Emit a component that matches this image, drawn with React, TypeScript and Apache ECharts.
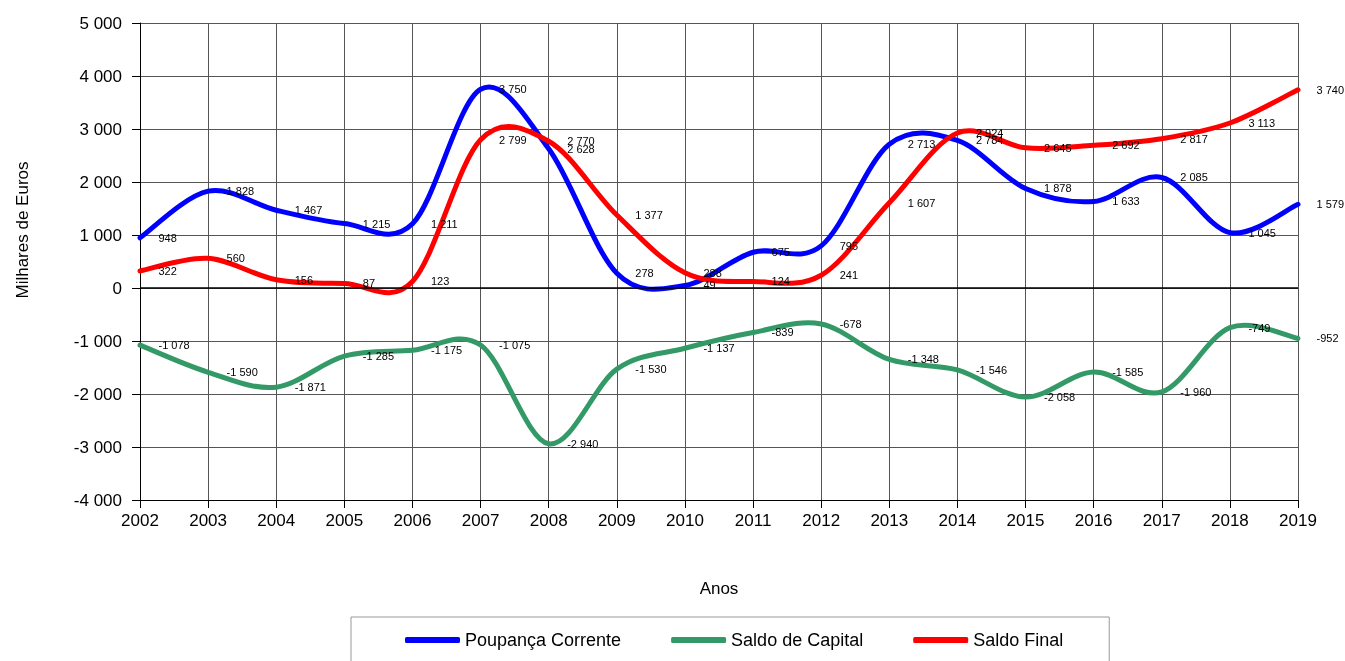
import React, { useEffect, useRef } from "react";
import * as echarts from "echarts";

const years = ["2002","2003","2004","2005","2006","2007","2008","2009","2010","2011","2012","2013","2014","2015","2016","2017","2018","2019"];
const poupancaCorrente = [948, 1828, 1467, 1215, 1211, 3750, 2628, 278, 49, 675, 795, 2713, 2784, 1878, 1633, 2085, 1045, 1579];
const saldoCapital = [-1078, -1590, -1871, -1285, -1175, -1075, -2940, -1530, -1137, -839, -678, -1348, -1546, -2058, -1585, -1960, -749, -952];
const saldoFinal = [322, 560, 156, 87, 123, 2799, 2770, 1377, 288, 124, 241, 1607, 2924, 2645, 2692, 2817, 3113, 3740];

const fmt = (v: number) => {
  const s = Math.abs(Math.round(v)).toString().replace(/\B(?=(\d{3})+(?!\d))/g, " ");
  return (v < 0 ? "-" : "") + s;
};

const FONT = "'Liberation Sans', Arial, sans-serif";

// Catmull-Rom style smoothing (similar to Excel's smoothed line)
const smoothPath = (pts: number[][]) => {
  let d = `M${pts[0][0]},${pts[0][1]}`;
  for (let i = 0; i < pts.length - 1; i++) {
    const p0 = pts[Math.max(0, i - 1)];
    const p1 = pts[i];
    const p2 = pts[i + 1];
    const p3 = pts[Math.min(pts.length - 1, i + 2)];
    const c1x = p1[0] + (p2[0] - p0[0]) / 6;
    const c1y = p1[1] + (p2[1] - p0[1]) / 6;
    const c2x = p2[0] - (p3[0] - p1[0]) / 6;
    const c2y = p2[1] - (p3[1] - p1[1]) / 6;
    d += ` C${c1x},${c1y} ${c2x},${c2y} ${p2[0]},${p2[1]}`;
  }
  return d;
};

export default function App() {
  const ref = useRef<HTMLDivElement>(null);
  useEffect(() => {
    if (!ref.current) return;
    const chart = echarts.init(ref.current, undefined, { renderer: "svg" });

    const labelSeries = (name: string, data: number[], color: string, extra: any = {}) => ({
      name,
      type: "line",
      data,
      z: 5,
      symbol: "circle",
      symbolSize: 1,
      showSymbol: true,
      lineStyle: { color, width: 0, opacity: 0 },
      itemStyle: { color, opacity: 1 },
      label: {
        show: true,
        position: "right",
        distance: 18,
        color: "#000",
        opacity: 1,
        fontSize: 11,
        fontFamily: FONT,
        formatter: (p: any) => fmt(p.value),
      },
      emphasis: { disabled: true },
      ...extra,
    });

    const curveSeries = (id: string, data: number[], color: string) => ({
      name: id,
      type: "custom",
      z: 2,
      silent: true,
      data: data.map((v, i) => [i, v]),
      encode: { x: 0, y: 1 },
      renderItem: (params: any, api: any) => {
        if (params.dataIndex !== 0) return null;
        const pts = data.map((v, i) => api.coord([i, v]));
        return {
          type: "path",
          shape: { pathData: smoothPath(pts) },
          style: { stroke: color, lineWidth: 5, fill: "none", lineCap: "round", lineJoin: "round" },
        };
      },
    });

    chart.setOption({
      animation: false,
      textStyle: { fontFamily: FONT },
      grid: { left: 140, right: 47, top: 23, bottom: 161 },
      legend: {
        left: 351,
        top: 617,
        orient: "horizontal",
        borderColor: "#999",
        borderWidth: 1,
        padding: [14, 46, 30, 54],
        itemGap: 50,
        itemWidth: 55,
        itemHeight: 6,
        icon: "roundRect",
        textStyle: { fontSize: 18, color: "#000", fontFamily: FONT },
        data: [
          { name: "Poupança Corrente", itemStyle: { color: "#0000FF", opacity: 1 } },
          { name: "Saldo de Capital", itemStyle: { color: "#339966", opacity: 1 } },
          { name: "Saldo Final", itemStyle: { color: "#FF0000", opacity: 1 } },
        ],
      },
      xAxis: {
        type: "category",
        data: years,
        boundaryGap: false,
        name: "Anos",
        nameLocation: "middle",
        nameGap: 80,
        nameTextStyle: { fontSize: 17, color: "#000", fontFamily: FONT },
        axisLine: { onZero: false, lineStyle: { color: "#000", width: 1 } },
        axisTick: { show: true, length: 8, alignWithLabel: true, lineStyle: { color: "#000" } },
        axisLabel: { color: "#000", fontSize: 17, margin: 12, fontFamily: FONT },
        splitLine: { show: true, lineStyle: { color: "#555", width: 1 } },
      },
      yAxis: {
        type: "value",
        min: -4000,
        max: 5000,
        interval: 1000,
        axisLine: { show: true, lineStyle: { color: "#000", width: 1 } },
        axisTick: { show: true, length: 8, lineStyle: { color: "#000" } },
        axisLabel: { color: "#000", fontSize: 17, margin: 18, fontFamily: FONT, formatter: (v: number) => fmt(v) },
        splitLine: { show: true, lineStyle: { color: "#555", width: 1 } },
      },
      graphic: [
        {
          type: "text",
          x: 22,
          y: 230,
          rotation: Math.PI / 2,
          style: {
            text: "Milhares de Euros",
            fontSize: 17,
            fontFamily: FONT,
            fill: "#000",
            align: "center",
            verticalAlign: "middle",
          },
        },
      ],
      series: [
        curveSeries("curve-pc", poupancaCorrente, "#0000FF"),
        curveSeries("curve-sc", saldoCapital, "#339966"),
        curveSeries("curve-sf", saldoFinal, "#FF0000"),
        labelSeries("Poupança Corrente", poupancaCorrente, "#0000FF", {
          markLine: {
            silent: true,
            symbol: "none",
            label: { show: false },
            lineStyle: { color: "#000", width: 1.5, type: "solid", opacity: 1 },
            data: [{ yAxis: 0 }],
          },
        }),
        labelSeries("Saldo de Capital", saldoCapital, "#339966"),
        labelSeries("Saldo Final", saldoFinal, "#FF0000"),
      ],
    });
    return () => chart.dispose();
  }, []);
  return <div ref={ref} style={{ position: "fixed", left: 0, top: 0, width: 1345, height: 661 }} />;
}
